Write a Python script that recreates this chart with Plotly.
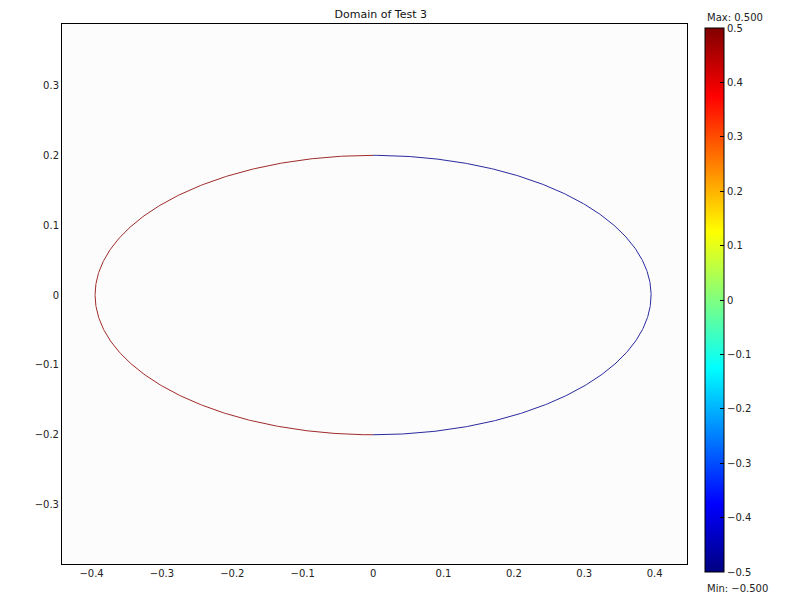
import numpy as np
import plotly.graph_objects as go

# Domain boundary: ellipse, left half at max value, right half at min value
semi_x = 0.395
semi_y = 0.2
center = (0.0, 0.0)
boundary_values = [0.5, -0.5]   # left half, right half
half_names = ["left", "right"]
val_min, val_max = -0.5, 0.5
cbar_ticks = [-0.5, -0.4, -0.3, -0.2, -0.1, 0, 0.1, 0.2, 0.3, 0.4, 0.5]

# MATLAB-style jet
jet = [[0.0, "rgb(0,0,128)"], [0.125, "rgb(0,0,255)"], [0.375, "rgb(0,255,255)"],
       [0.625, "rgb(255,255,0)"], [0.875, "rgb(255,0,0)"], [1.0, "rgb(128,0,0)"]]
line_colors = {"left": "#a02a2a", "right": "#2a2aa0"}

fig = go.Figure()

t_left = np.linspace(np.pi / 2, 3 * np.pi / 2, 400)
t_right = np.linspace(-np.pi / 2, np.pi / 2, 400)
for name, t, v in zip(half_names, [t_left, t_right], boundary_values):
    fig.add_trace(go.Scatter(
        x=center[0] + semi_x * np.cos(t),
        y=center[1] + semi_y * np.sin(t),
        mode="lines",
        line=dict(color=line_colors[name], width=1),
        hoverinfo="skip",
        showlegend=False,
    ))

# invisible trace carrying the colorbar
fig.add_trace(go.Scatter(
    x=[center[0], center[0]], y=[center[1], center[1]],
    mode="markers",
    marker=dict(size=1, opacity=0, color=boundary_values, colorscale=jet,
                cmin=val_min, cmax=val_max, showscale=True,
                colorbar=dict(x=1.0288, xanchor="left", xpad=0, ypad=0,
                              y=0.4886, yanchor="middle", lenmode="pixels", len=544,
                              thickness=19, outlinewidth=1, outlinecolor="black",
                              ticks="inside", ticklen=4, tickcolor="black",
                              tickvals=cbar_ticks, tickfont=dict(size=10, color="#222"))),
    hoverinfo="skip",
    showlegend=False,
))

axis_style = dict(showgrid=False, zeroline=False, showline=True, linecolor="black",
                  linewidth=1, mirror=True, ticks="", tickfont=dict(size=10, color="#222"),
                  dtick=0.1)

# page body adds an 8px offset, so the margins are shifted to compensate
fig.update_layout(
    width=800, height=600,
    margin=dict(l=54, r=121, t=16, b=44, autoexpand=False),
    paper_bgcolor="white", plot_bgcolor="#fcfcfc",
    font=dict(family="DejaVu Sans", size=10, color="#222"),
    title=dict(text="Domain of Test 3", x=0.466, xanchor="center", y=0.99, yanchor="middle",
               font=dict(size=11, color="#111")),
    xaxis=dict(range=[-0.442, 0.446], **axis_style),
    yaxis=dict(range=[-0.385, 0.388], **axis_style),
    annotations=[
        dict(text="Max: 0.500", xref="paper", yref="paper", x=1.0288, y=1.0, yshift=-1,
             xanchor="left", yanchor="bottom", showarrow=False, font=dict(size=10)),
        dict(text="Min: \u22120.500", xref="paper", yref="paper", x=1.0288, y=0.0, yshift=-17,
             xanchor="left", yanchor="top", showarrow=False, font=dict(size=10)),
    ],
)

fig.write_html("out.html")
